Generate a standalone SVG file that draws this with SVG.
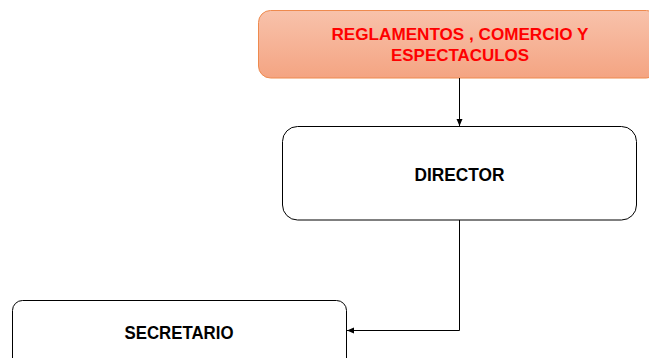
<svg xmlns="http://www.w3.org/2000/svg" width="649" height="358" viewBox="0 0 649 358">
<style>
.box{fill:#fff;stroke:#000;stroke-width:1}
.lbl{font-family:"Liberation Sans",Arial,sans-serif;font-weight:bold;fill:#000;text-anchor:middle;font-size:19px}
.red{font-family:"Liberation Sans",Arial,sans-serif;font-weight:bold;fill:#ff0000;text-anchor:middle;font-size:16.5px}
.conn{fill:none;stroke:#000;stroke-width:1}
</style>
<defs>
<linearGradient id="og" x1="0" y1="0" x2="0" y2="1">
<stop offset="0" stop-color="#f8c2ab"/>
<stop offset="1" stop-color="#f4a482"/>
</linearGradient>
<marker id="ah" markerWidth="8" markerHeight="8" refX="7" refY="4" orient="auto" markerUnits="userSpaceOnUse">
<path d="M0,1 L7,4 L0,7 Z" fill="#000"/>
</marker>
</defs>
<rect width="649" height="358" fill="#fff"/>
<g id="reglamentos">
<rect x="258.5" y="10.5" width="400" height="67.5" rx="12" fill="url(#og)" stroke="#ee8a4e" stroke-width="1"/>
<text class="red" x="460" y="39.5" textLength="257" lengthAdjust="spacingAndGlyphs">REGLAMENTOS , COMERCIO Y</text>
<text class="red" x="460" y="61" textLength="138" lengthAdjust="spacingAndGlyphs">ESPECTACULOS</text>
</g>
<g id="director">
<rect class="box" x="282.5" y="126.5" width="354" height="93.5" rx="15"/>
<text class="lbl" x="459.5" y="181" textLength="90" lengthAdjust="spacingAndGlyphs">DIRECTOR</text>
</g>
<g id="secretario">
<rect class="box" x="12.5" y="300.5" width="334" height="70" rx="10"/>
<text class="lbl" x="179" y="338.5" textLength="109" lengthAdjust="spacingAndGlyphs">SECRETARIO</text>
</g>
<g id="connectors">
<path class="conn" d="M459.5,78 L459.5,126" marker-end="url(#ah)"/>
<path class="conn" d="M459.5,220 L459.5,330.5 L347,330.5" marker-end="url(#ah)"/>
</g>
</svg>
